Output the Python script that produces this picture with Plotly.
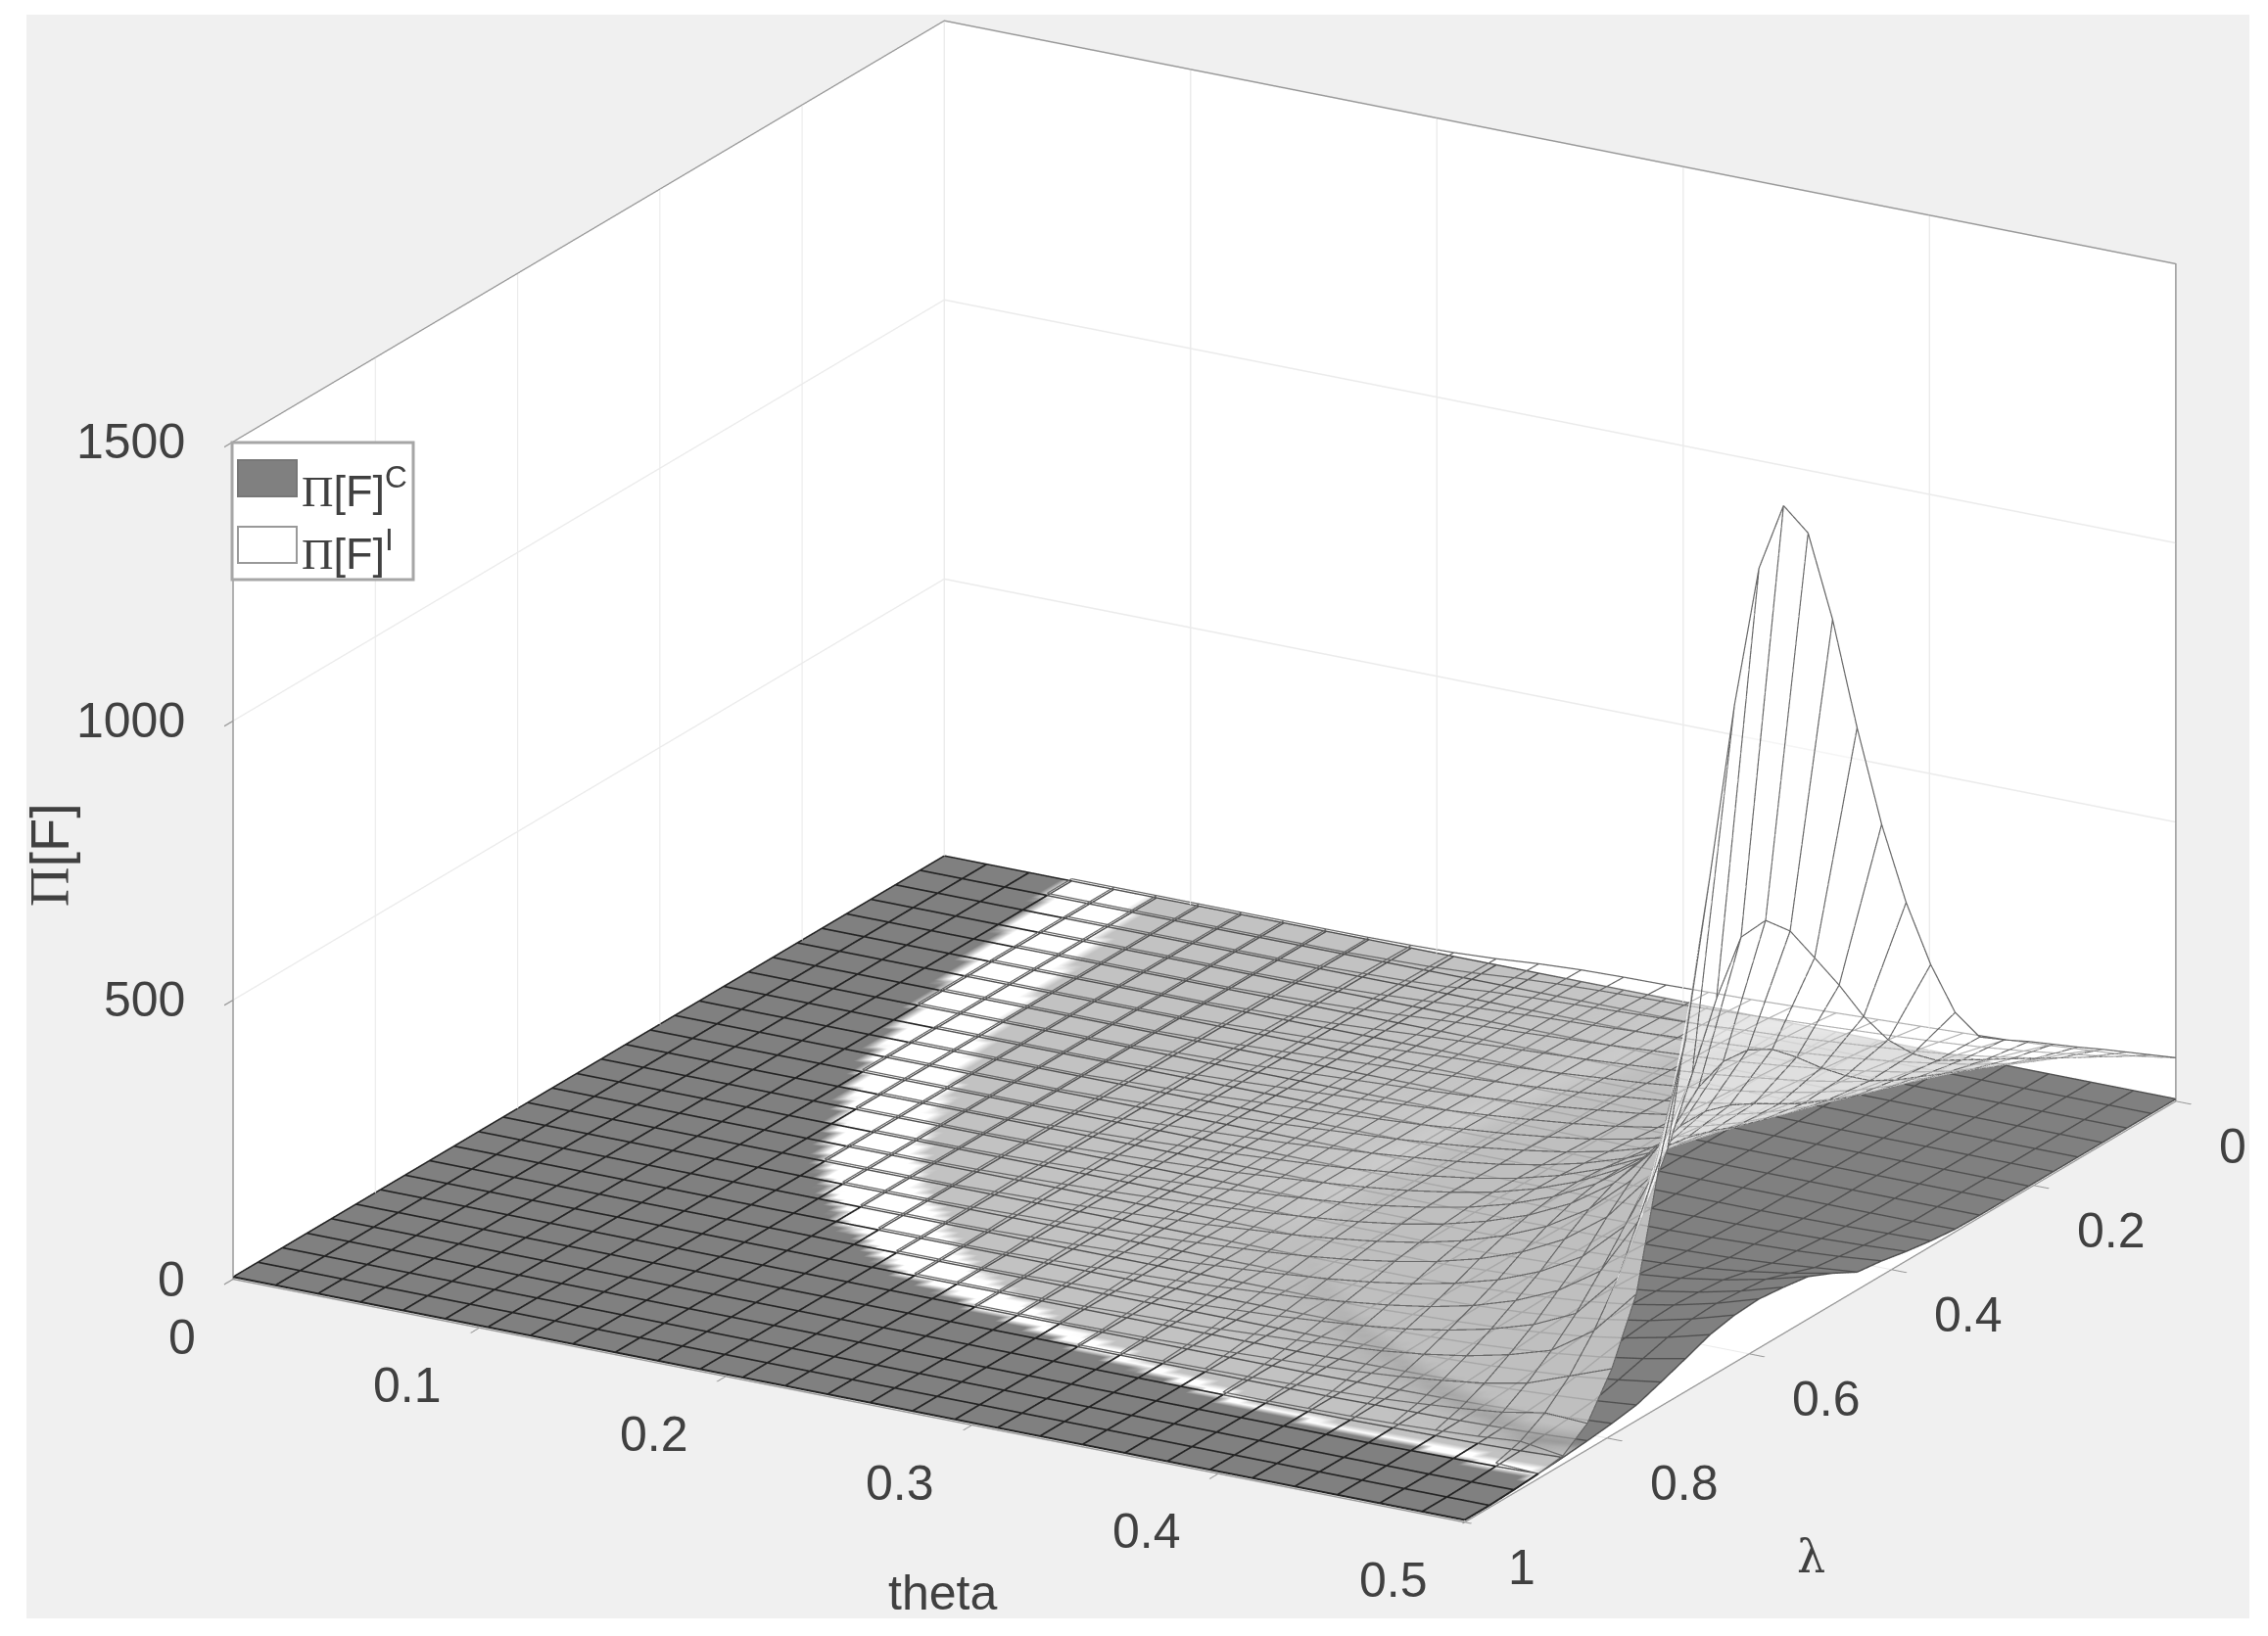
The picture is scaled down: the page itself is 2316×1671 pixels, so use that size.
import numpy as np
import plotly.graph_objects as go

theta = [k * 0.5 / 29 for k in range(30)]
lam = [k / 29 for k in range(30)]

# Pi[F]^I read row by row (theta index 0..29; columns are lambda index 0..29)
pi_i = [
 [7]*30, [7]*30, [7]*30, [7]*30, [7]*30, [7]*30, [7]*30, [7]*30, [7]*30, [7]*30,
 [7,7,8,8,9,9,9,9,10,10,10,9,9,9,8,8,8,7,7,7,7,7,7,7,7,7,7,7,7,7],
 [8,9,10,10,11,11,12,12,12,12,12,12,11,11,11,10,10,9,8,7,7,7,7,7,7,7,7,7,7,7],
 [10,11,12,13,14,14,15,15,15,15,15,15,15,14,14,13,12,11,10,8,7,7,7,7,7,7,7,7,7,7],
 [14,15,16,17,18,18,19,19,19,19,19,19,18,18,17,16,15,14,12,10,8,7,7,7,7,7,7,7,7,7],
 [20,21,22,22,23,23,23,23,23,23,23,22,22,21,21,20,19,17,15,12,10,8,7,7,7,7,7,7,7,7],
 [24,25,26,26,27,27,27,27,27,27,27,27,26,26,25,24,23,21,18,15,12,10,8,7,7,7,7,7,7,7],
 [26,28,29,30,30,31,31,31,31,32,32,32,32,31,31,30,28,25,22,18,15,12,9,7,7,7,7,7,7,7],
 [27,30,32,33,34,35,35,36,36,37,37,37,38,37,37,36,34,31,27,22,18,14,11,8,7,7,7,7,7,7],
 [29,32,35,37,38,39,40,41,42,43,44,44,45,45,44,43,41,37,32,27,22,17,13,9,7,7,7,7,7,7],
 [31,35,38,41,43,44,46,47,48,50,51,52,53,53,53,52,49,45,39,33,27,21,15,11,8,7,7,7,7,7],
 [34,39,43,46,48,50,52,54,56,58,60,62,63,64,65,64,60,55,48,40,32,25,19,13,9,7,7,7,7,7],
 [37,43,47,51,54,57,60,62,65,68,71,74,77,79,80,79,75,68,60,49,40,31,23,16,10,8,7,7,7,7],
 [40,47,53,58,62,66,69,73,77,81,86,90,95,99,101,100,95,86,75,61,49,38,28,19,12,8,7,7,7,7],
 [43,51,59,65,71,76,81,86,92,98,105,112,119,126,129,128,121,110,95,77,61,47,34,23,14,9,7,7,7,7],
 [46,56,66,74,82,89,96,103,112,120,130,141,152,162,167,166,157,142,122,98,78,60,43,29,17,10,8,7,7,7],
 [49,62,74,85,95,105,115,125,138,150,165,180,198,212,220,220,208,188,160,128,102,77,55,37,22,12,8,7,7,7],
 [54,70,85,98,112,125,140,155,170,190,210,235,262,285,300,300,285,255,215,170,135,100,72,47,28,15,9,7,7,7],
 [60,80,98,115,135,155,175,195,215,240,275,315,360,400,425,430,410,365,300,240,185,135,95,62,36,19,10,8,7,7],
 [65,90,115,140,165,190,215,240,265,303,354,422,504,579,653,698,694,610,500,392,300,215,145,90,50,25,12,8,7,7],
 [77,108,139,170,200,231,262,291,322,392,504,641,807,1006,1226,1407,1482,1396,1177,896,628,447,226,118,46,14,8,7,7,7],
]

# Pi[F]^C
pi_c = [[3]*30 for _ in range(22)] + [
 [3,3,3,3,3,3,3,3,3,3,3,3,3,4,5,6,7,7,7,6,5,4,4,3,3,3,3,3,3,3],
 [3,3,3,3,3,3,3,3,3,3,3,3,4,5,6,9,10,10,10,9,7,6,5,4,3,3,3,3,3,3],
 [3,3,3,3,3,3,3,3,3,3,3,4,5,6,9,13,14,15,14,13,10,8,6,5,4,3,3,3,3,3],
 [3,3,3,3,3,3,3,3,3,3,3,5,7,9,13,19,21,22,21,19,15,11,8,6,5,4,3,3,3,3],
 [3,3,3,3,3,3,3,3,3,3,4,7,10,12,19,27,30,32,31,27,22,16,11,8,6,5,4,3,3,3],
 [3,3,3,3,3,3,3,3,3,3,5,9,13,17,28,39,43,46,44,39,31,22,15,11,8,6,5,3,3,3],
 [3,3,3,3,3,3,3,3,3,3,7,12,18,24,40,55,60,64,62,55,43,31,20,15,11,8,6,4,3,3],
 [3,3,3,3,3,3,3,3,3,4,9,16,25,31,55,75,82,87,84,75,58,42,27,20,15,11,8,5,3,3],
]

# where Pi^I overtakes Pi^C: theta index of crescent edges for each lambda index
crescent_outer = [2.95,3,3.1,3.25,3.35,3.5,3.7,3.85,4,4.2,4.4,4.6,5,5.3,5.7,6.1,6.5,7,7.6,8.4,9.2,10.4,11.7,14,17,20.3,27.5,40,40,40]
crescent_inner = [4.9,5,5.15,5.3,5.4,5.6,5.7,5.85,6,6.2,6.5,6.8,7.1,7.4,7.8,8.2,8.7,9.3,10.1,11,11.9,12.9,14.4,16,18.5,21.6,29.5,42,42,42]

x_ticks = [0, 0.1, 0.2, 0.3, 0.4, 0.5]
y_ticks = [0, 0.2, 0.4, 0.6, 0.8, 1]
z_ticks = [0, 500, 1000, 1500]

PAGE_W, PAGE_H = 2316, 1671

Zi = np.array(pi_i, float)
Zc = np.array(pi_c, float)
outer = np.array(crescent_outer)[None, :]
inner = np.array(crescent_inner)[None, :]
J = np.arange(30)[:, None]
t = np.clip((J - outer) / (inner - outer), -2, 4)
zone_field = np.where((Zi < 20) | (t <= 1), np.minimum(t, 1.95), np.clip(2 + (Zi - 20) / 22, 2, 4))

flat = dict(ambient=1, diffuse=0, specular=0, roughness=1, fresnel=0)
no_lines = dict(x=dict(show=False, highlight=False), y=dict(show=False, highlight=False), z=dict(show=False, highlight=False))

def mesh_lines(Z, lift, keep):
    """Segments between neighbouring grid nodes, where keep(node_a, node_b) is true."""
    xs, ys, zs = [], [], []
    n = Z.shape[0]
    for a in range(n):
        for b in range(n):
            for a2, b2 in ((a + 1, b), (a, b + 1)):
                if a2 < n and b2 < n and keep((a, b), (a2, b2)):
                    xs += [theta[a], theta[a2], None]
                    ys += [lam[b], lam[b2], None]
                    zs += [Z[a, b] + lift, Z[a2, b2] + lift, None]
    return xs, ys, zs

DARK = "#808080"; LIGHT = "#c2c2c2"; WHITE = "#ffffff"
fig = go.Figure()
fig.add_trace(go.Surface(
    x=theta, y=lam, z=Zc.T, surfacecolor=zone_field.T, cmin=-2, cmax=4, showscale=False, hoverinfo="skip",
    colorscale=[[0, DARK], [0.332, DARK], [0.335, WHITE], [0.498, WHITE], [0.501, LIGHT],
                [0.6667, LIGHT], [0.7083, "#b9b9b9"], [0.75, "#aeaeae"], [0.7917, "#9d9d9d"],
                [0.8333, DARK], [1, DARK]],
    lighting=flat, contours=no_lines,
))
gx, gy, gz = mesh_lines(Zc, 1, lambda p, q: t[p] < 0 or t[q] < 0)
fig.add_trace(go.Scatter3d(x=gx, y=gy, z=gz, mode="lines", hoverinfo="skip", line=dict(color="#242424", width=4)))
gx, gy, gz = mesh_lines(Zc, 1, lambda p, q: t[p] >= 0 and t[q] >= 0)
fig.add_trace(go.Scatter3d(x=gx, y=gy, z=gz, mode="lines", hoverinfo="skip", line=dict(color="#505050", width=3)))
fig.add_trace(go.Surface(
    x=theta, y=lam, z=Zi.T, surfacecolor=zone_field.T, cmin=-2, cmax=4, showscale=False, hoverinfo="skip",
    colorscale=[[0, WHITE], [1, WHITE]], lighting=flat, contours=no_lines,
    opacityscale=[[0, 0], [0.6667, 0], [0.7083, 0.125], [0.75, 0.25], [0.7917, 0.375], [0.8333, 0.5], [1, 0.5]],
))
wx, wy, wz = mesh_lines(Zi, 1, lambda p, q: Zi[p] >= 20 or Zi[q] >= 20 or (t[p] >= 0 and t[q] >= 0))
fig.add_trace(go.Scatter3d(x=wx, y=wy, z=wz, mode="lines", hoverinfo="skip", line=dict(color="#686868", width=2.5)))

def axis(vals, rng):
    return dict(
        range=rng, tickvals=vals, showticklabels=False, title=dict(text=""),
        showbackground=True, backgroundcolor="#ffffff", gridcolor="#ebebeb", gridwidth=3,
        showline=True, linecolor="#999999", linewidth=3, mirror=True,
        ticks="outside", ticklen=18, tickcolor="#999999", tickwidth=3,
        zeroline=False, showspikes=False,
    )

tick_font = dict(family="Liberation Sans", size=50, color="#404040")
scene_notes = []
for v in x_ticks:
    scene_notes.append(dict(x=v, y=1, z=0, text=str(v), showarrow=False, xanchor="right", yanchor="middle",
                            xshift=-36, yshift=-59, font=tick_font))
for v in y_ticks:
    scene_notes.append(dict(x=0.5, y=v, z=0, text=str(v), showarrow=False, xanchor="left", yanchor="middle",
                            xshift=42, yshift=-46, font=tick_font))
for v in z_ticks:
    scene_notes.append(dict(x=0, y=1, z=v, text=str(v), showarrow=False, xanchor="right", yanchor="middle",
                            xshift=-47, yshift=0, font=tick_font))

PI = "<span style='font-family:Liberation Serif'>Π</span>"
def note(text, px, py, size, **kw):
    base = dict(text=text, x=px/PAGE_W, y=1-py/PAGE_H, xref="paper", yref="paper", showarrow=False,
                xanchor="center", yanchor="middle", font=dict(family="Liberation Sans", size=size, color="#404040"))
    base.update(kw)
    return base

def rect(x0, y0, x1, y1, **kw):
    return dict(type="rect", xref="paper", yref="paper", x0=x0/PAGE_W, x1=x1/PAGE_W, y0=1-y1/PAGE_H, y1=1-y0/PAGE_H, **kw)

fig.update_layout(
    width=PAGE_W, height=PAGE_H, margin=dict(l=0, r=0, t=0, b=0),
    paper_bgcolor="#ffffff", showlegend=False,
    scene=dict(
        domain=dict(x=[0.062, 1], y=[0.0568, 1]),
        xaxis=axis(x_ticks, [0, 0.5]),
        yaxis=axis(y_ticks, [1, 0]),
        zaxis=axis(z_ticks, [0, 1500]),
        aspectmode="manual", aspectratio=dict(x=1.843, y=1.843, z=1.155),
        camera=dict(projection=dict(type="orthographic"),
                    eye=dict(x=0.470, y=-0.814, z=0.342),
                    center=dict(x=0, y=0, z=0), up=dict(x=0, y=0, z=1)),
        annotations=scene_notes,
    ),
    shapes=[
        rect(27, 15, 2297, 1653, fillcolor="#f0f0f0", line=dict(width=0), layer="below"),
        rect(237, 452, 422, 592, fillcolor="#ffffff", line=dict(color="#a6a6a6", width=3), layer="above"),
        rect(243, 470, 303, 507, fillcolor="#808080", line=dict(color="#777777", width=2), layer="above"),
        rect(243, 538, 303, 575, fillcolor="#ffffff", line=dict(color="#999999", width=2), layer="above"),
    ],
    annotations=[
        note("theta", 962, 1627, 50),
        note("λ", 1849, 1590, 46, font=dict(family="DejaVu Serif", size=46, color="#404040")),
        note(PI + "[F]", 50, 873, 56, textangle=-90),
        note(PI + "[F]<sup>C</sup>", 306, 498, 45, xanchor="left"),
        note(PI + "[F]<sup>I</sup>", 306, 562, 45, xanchor="left"),
    ],
)
fig.write_html("out.html", config=dict(displayModeBar=False), post_script="document.body.style.margin='0';")
